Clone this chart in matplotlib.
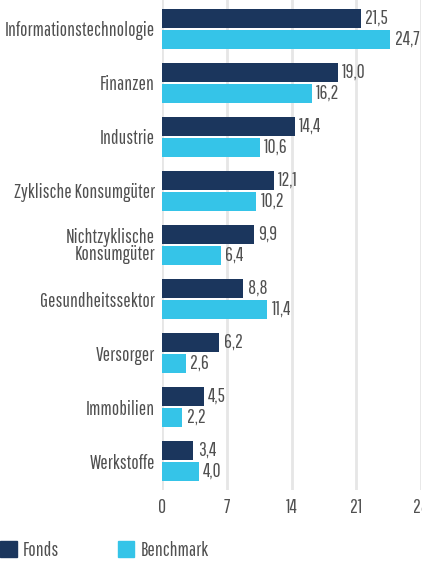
import numpy as np
import matplotlib
matplotlib.use("Agg")
import matplotlib.pyplot as plt
from matplotlib.patches import Patch

categories = ["Informationstechnologie", "Finanzen", "Industrie",
              "Zyklische Konsumgüter", "Nichtzyklische\nKonsumgüter",
              "Gesundheitssektor", "Versorger", "Immobilien", "Werkstoffe"]
fonds = [21.5, 19.0, 14.4, 12.1, 9.9, 8.8, 6.2, 4.5, 3.4]
benchmark = [24.7, 16.2, 10.6, 10.2, 6.4, 11.4, 2.6, 2.2, 4.0]
xticks = [0, 7, 14, 21, 28]

navy = "#1b365d"
cyan = "#35c4e8"
txt = "#505050"

plt.rcParams['font.family'] = ['Pathway Gothic One', 'Roboto Condensed', 'DejaVu Sans']
fs = 14

fig = plt.figure(figsize=(4.22, 5.61), dpi=100)
ax = fig.add_axes([162/422, 1 - 490/561, 259/422, 490/561])

y = np.arange(len(categories))
off = 0.194
h = 0.352
ax.barh(y - off, fonds, height=h, color=navy, zorder=3)
ax.barh(y + off, benchmark, height=h, color=cyan, zorder=3)

for i in range(len(categories)):
    ax.text(fonds[i] + 0.45, y[i] - off, f"{fonds[i]:.1f}".replace(".", ","),
            va="center", ha="left", fontsize=fs, color=txt, zorder=4)
    ax.text(benchmark[i] + 0.45, y[i] + off, f"{benchmark[i]:.1f}".replace(".", ","),
            va="center", ha="left", fontsize=fs, color=txt, zorder=4, clip_on=False)

ax.set_xlim(0, 28)
ax.set_ylim(len(categories) - 1 + 0.537, -0.537)
ax.set_xticks(xticks)
ax.set_xticklabels([str(t) for t in xticks])
ax.set_yticks(y)
ax.set_yticklabels(categories, linespacing=0.85)
ax.tick_params(axis="both", length=0, labelsize=fs, labelcolor=txt)
ax.tick_params(axis="y", pad=5)
ax.tick_params(axis="x", pad=6)
ax.grid(axis="x", color="#e6e6e6", linewidth=2, zorder=0)
for s in ax.spines.values():
    s.set_visible(False)

handles = [Patch(color=navy, label="Fonds"), Patch(color=cyan, label="Benchmark")]
fig.legend(handles=handles, loc="lower left", bbox_to_anchor=(0, 0.002),
           ncol=2, frameon=False, fontsize=fs, labelcolor=txt,
           borderpad=0, borderaxespad=0,
           handlelength=0.85, handleheight=0.85, handletextpad=0.3,
           columnspacing=3.05)

fig.savefig("out.png", dpi=100)
